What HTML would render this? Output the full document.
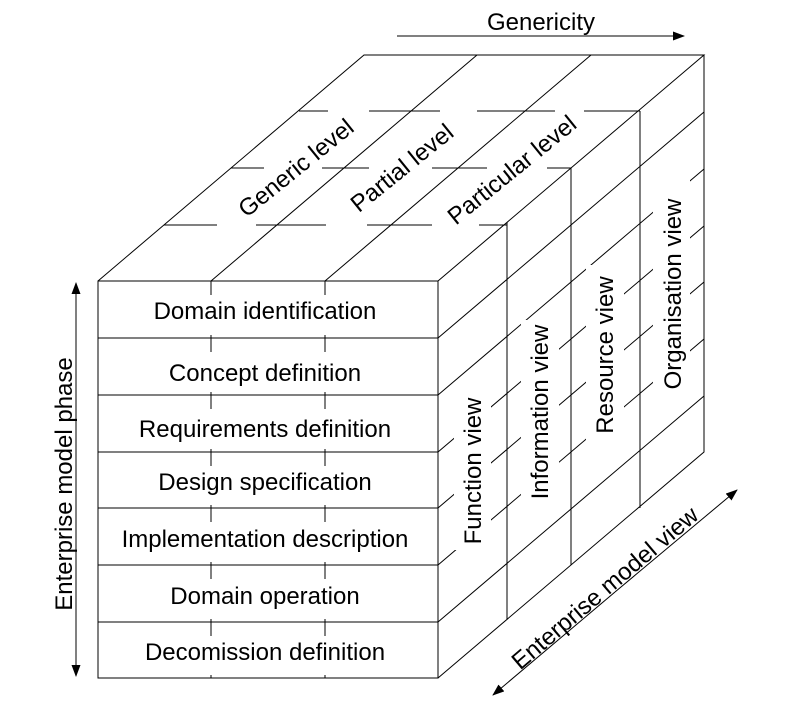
<!DOCTYPE html>
<html><head><meta charset="utf-8"><style>html,body{margin:0;padding:0;background:#fff}</style></head>
<body>
<svg width="794" height="717" viewBox="0 0 794 717" xmlns="http://www.w3.org/2000/svg" font-family="Liberation Sans, sans-serif" font-size="24">
<defs><marker id="a" markerWidth="12" markerHeight="12" refX="11" refY="6" orient="auto" markerUnits="userSpaceOnUse"><path d="M0,1.5 L12,6 L0,10.5 z" fill="#000"/></marker></defs>
<g stroke="#000" stroke-width="1" fill="none">
<!-- front face -->
<rect x="98" y="281" width="340" height="397"/>
<path d="M98,338H438M98,395H438M98,452H438M98,508H438M98,565H438M98,622H438"/>
<path d="M211,281V678M325,281V678"/>
<!-- top face -->
<path d="M98,281L364,55H704L438,281"/>
<path d="M211,281L477,55M325,281L591,55"/>
<path d="M164,225H217M256,225H326M367,225H432M479,225H507"/>
<path d="M231,168H264M322,168H369M432,168H487M547,168H571"/>
<path d="M299,111H328M369,111H440M477,111H555M584,111H640"/>
<!-- right face -->
<path d="M704,55V452L438,678"/>
<path d="M507,222V619M571,168V565M640,111V508"/>
<path d="M438,338L704,112M438,395L704,169M438,452L704,226M438,508L704,282M438,565L704,339M438,622L704,396"/>
</g>
<g fill="#fff">
<rect x="150" y="295" width="240" height="40"/>
<rect x="150" y="352" width="240" height="40"/>
<rect x="150" y="409" width="240" height="40"/>
<rect x="150" y="466" width="240" height="39"/>
<rect x="150" y="522" width="240" height="40"/>
<rect x="150" y="579" width="240" height="40"/>
<rect x="150" y="636" width="240" height="39"/>
<rect x="454" y="390" width="37" height="160"/>
<rect x="521" y="320" width="38" height="185"/>
<rect x="586" y="265" width="38" height="178"/>
<rect x="653" y="170" width="37" height="222"/>
</g>
<g fill="#000" text-anchor="middle">
<text transform="translate(296,168) rotate(-39)" dy="8">Generic level</text>
<text transform="translate(402,168) rotate(-39)" dy="8">Partial level</text>
<text transform="translate(512,170) rotate(-39)" dy="8">Particular level</text>
<text transform="translate(473,471) rotate(-90)" dy="8">Function view</text>
<text transform="translate(540,412) rotate(-90)" dy="8">Information view</text>
<text transform="translate(605,355) rotate(-90)" dy="8">Resource view</text>
<text transform="translate(673,294) rotate(-90)" dy="8">Organisation view</text>
<text x="265" y="319">Domain identification</text>
<text x="265" y="381">Concept definition</text>
<text x="265" y="437">Requirements definition</text>
<text x="265" y="490">Design specification</text>
<text x="265" y="547">Implementation description</text>
<text x="265" y="604">Domain operation</text>
<text x="265" y="660">Decomission definition</text>
<text x="541" y="30">Genericity</text>
<text transform="translate(64,484) rotate(-90)" dy="8">Enterprise model phase</text>
<text transform="translate(605,588) rotate(-40.4)" dy="8">Enterprise model view</text>
</g>
<g stroke="#000" stroke-width="1">
<line x1="397" y1="36" x2="684" y2="36" marker-end="url(#a)"/>
<line x1="76" y1="480" x2="76" y2="283" marker-end="url(#a)"/>
<line x1="76" y1="480" x2="76" y2="676" marker-end="url(#a)"/>
<line x1="615" y1="592" x2="737" y2="490" marker-end="url(#a)"/>
<line x1="615" y1="592" x2="493" y2="695" marker-end="url(#a)"/>
</g>
</svg>
</body></html>
